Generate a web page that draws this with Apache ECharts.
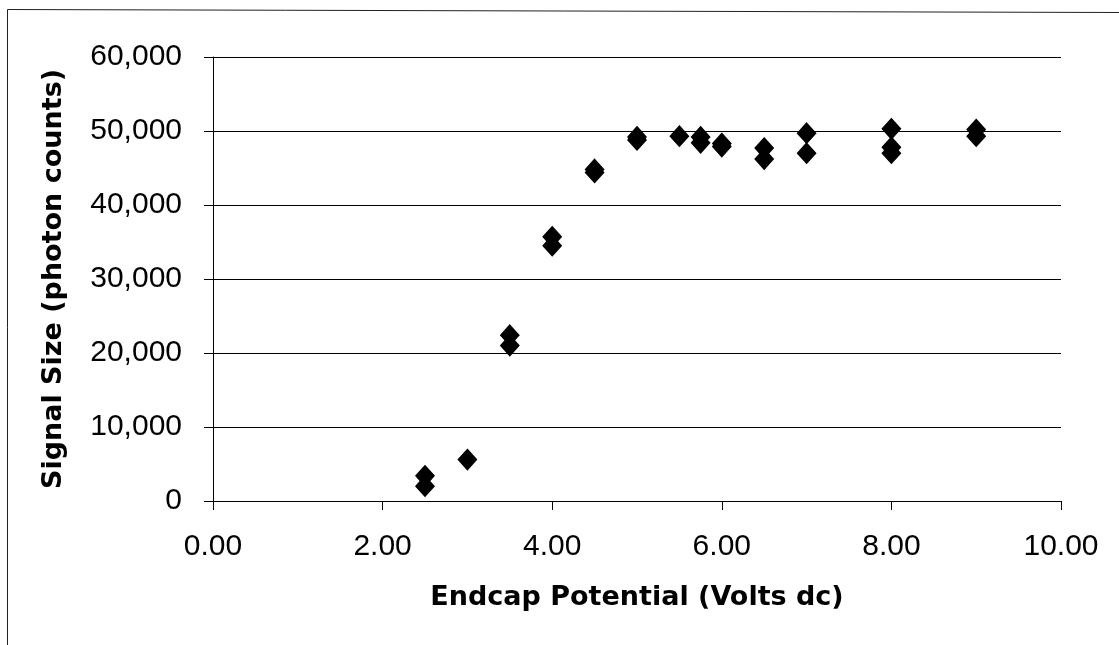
<!DOCTYPE html>
<html><head><meta charset="utf-8">
<script src="https://cdn.jsdelivr.net/npm/echarts@6/dist/echarts.min.js"></script>
<style>html,body{margin:0;padding:0;background:#fff}#c{width:1119px;height:645px}</style>
</head><body><div id="c"></div>
<script>
const xValues = [2.5, 2.5, 3.0, 3.5, 3.5, 4.0, 4.0, 4.5, 4.5, 5.0, 5.0, 5.5, 5.75, 5.75, 6.0, 6.0, 6.5, 6.5, 7.0, 7.0, 8.0, 8.0, 8.0, 9.0, 9.0];
const yValues = [3400, 2000, 5600, 22400, 21000, 35700, 34500, 44800, 44400, 49200, 48800, 49300, 49200, 48400, 48300, 47900, 47700, 46200, 49700, 47000, 50300, 47800, 47000, 50200, 49300];
const xTitle = 'Endcap Potential (Volts dc)';
const yTitle = 'Signal Size (photon counts)';

const pts = xValues.map((x, i) => [x, yValues[i]]);
const font = 'Liberation Sans, Arial, sans-serif';
const titleFont = 'DejaVu Sans, sans-serif';
const chart = echarts.init(document.getElementById('c'));
chart.setOption({
  animation: false,
  backgroundColor: '#fff',
  graphic: [
    {type: 'line', shape: {x1: 7.5, y1: 9.5, x2: 1119, y2: 12.5}, style: {stroke: '#222', lineWidth: 1}},
    {type: 'line', shape: {x1: 7.5, y1: 9.5, x2: 7.5, y2: 645}, style: {stroke: '#222', lineWidth: 1}}
  ],
  grid: {left: 213, right: 58, top: 57, bottom: 144},
  xAxis: {
    type: 'value', min: 0, max: 10, interval: 2,
    name: xTitle, nameLocation: 'middle', nameGap: 83,
    nameTextStyle: {fontFamily: titleFont, fontSize: 27, fontWeight: 'bold', color: '#000'},
    axisLine: {lineStyle: {color: '#000', width: 1}},
    axisTick: {show: true, length: 9, inside: false, lineStyle: {color: '#000'}},
    axisLabel: {fontFamily: font, fontSize: 30, color: '#000', margin: 31, formatter: v => v.toFixed(2)},
    splitLine: {show: false}
  },
  yAxis: {
    type: 'value', min: 0, max: 60000, interval: 10000,
    name: yTitle, nameLocation: 'middle', nameGap: 146, nameRotate: 90,
    nameTextStyle: {fontFamily: titleFont, fontSize: 27, fontWeight: 'bold', color: '#000'},
    axisLine: {show: true, lineStyle: {color: '#000', width: 1}},
    axisTick: {show: true, length: 9, lineStyle: {color: '#000'}},
    axisLabel: {fontFamily: font, fontSize: 30, color: '#000', margin: 31, formatter: v => v.toLocaleString('en-US')},
    splitLine: {show: true, lineStyle: {color: '#000', width: 1}}
  },
  series: [{
    type: 'scatter', data: pts, symbol: 'diamond', symbolSize: [18, 20],
    itemStyle: {color: '#000', opacity: 1, borderColor: '#000', borderWidth: 1.5}
  }]
});
</script></body></html>
